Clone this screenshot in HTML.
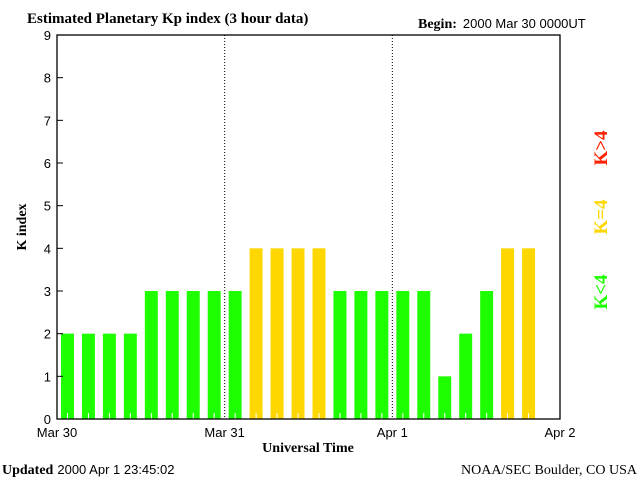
<!DOCTYPE html>
<html><head><meta charset="utf-8"><style>
body{margin:0;background:#fff;}
svg{display:block;}
.s{font-family:"Liberation Sans",sans-serif;font-size:13px;}
.b{font-family:"Liberation Serif",serif;font-size:14px;font-weight:bold;}
</style></head><body>
<svg id="c" width="640" height="480" viewBox="0 0 640 480">
<text class="b" x="27" y="23" style="font-size:15px">Estimated Planetary Kp index (3 hour data)</text>
<text x="418" y="28"><tspan class="b">Begin:</tspan><tspan class="s" dx="6">2000 Mar 30 0000UT</tspan></text>
<g id="bars"></g>
<g id="axes"></g>
<text class="b" x="0" y="0" transform="translate(26,227) rotate(-90)" text-anchor="middle">K index</text>
<text class="b" x="308" y="452" text-anchor="middle">Universal Time</text>
<text x="2" y="474"><tspan class="b">Updated</tspan><tspan class="s" dx="4">2000 Apr  1 23:45:02</tspan></text>
<text class="b" x="637" y="474" text-anchor="end" style="font-weight:normal">NOAA/SEC Boulder, CO USA</text>
<text class="b" transform="translate(607,148) rotate(-90)" text-anchor="middle" fill="#ff2000" style="font-size:19px">K&gt;4</text>
<text class="b" transform="translate(607,217) rotate(-90)" text-anchor="middle" fill="#ffd700" style="font-size:19px">K=4</text>
<text class="b" transform="translate(607,292) rotate(-90)" text-anchor="middle" fill="#1eff00" style="font-size:19px">K&lt;4</text>
</svg>
<script>
const kpValues=[2,2,2,2,3,3,3,3,3,4,4,4,4,3,3,3,3,3,1,2,3,4,4];
const dayLabels=["Mar 30","Mar 31","Apr 1","Apr 2"];
const yTicks=[0,1,2,3,4,5,6,7,8,9];
const NS="http://www.w3.org/2000/svg";
const X0=57,X1=560,Y0=419,Y1=35;
const slot=(X1-X0)/24;
const xs=i=>X0+i*slot;
const ys=v=>Y0-v*(Y0-Y1)/9;
function mk(t,a,p){const e=document.createElementNS(NS,t);for(const k in a)e.setAttribute(k,a[k]);p.appendChild(e);return e;}
const bars=document.getElementById('bars'),axes=document.getElementById('axes');
kpValues.forEach((v,i)=>{
 const col=v<4?"#1eff00":(v==4?"#ffd700":"#ff2000");
 const r=mk('rect',{x:xs(i)+4,y:ys(v),width:slot-8,height:Y0-ys(v),fill:col},bars);
 
 
 const t=mk('line',{x1:xs(i)+slot/2,x2:xs(i)+slot/2,y1:Y0,y2:Y0-6,stroke:'#fff','stroke-width':1},bars);
 
 
});
const fr=mk('rect',{x:X0,y:Y1,width:X1-X0,height:Y0-Y1,fill:'none',stroke:'#000','stroke-width':1.3},axes);


yTicks.forEach(v=>{
 mk('line',{x1:X0,x2:X0+6,y1:ys(v),y2:ys(v),stroke:'#000'},axes);
 const t=mk('text',{x:X0-6,y:ys(v)+5,'text-anchor':'end',class:'s','font-size':'14'},axes);
 t.textContent=v;
 
 
});
dayLabels.forEach((d,i)=>{
 const x=X0+i*slot*8;
 if(i>0&&i<3){const l=mk('line',{x1:x,x2:x,y1:Y1,y2:Y0,stroke:'#000','stroke-dasharray':'1,2'},axes);
  
  }
 const t=mk('text',{x:x,y:Y0+18,'text-anchor':'middle',class:'s'},axes);
 t.textContent=d;
 
 
});
</script>
</body></html>
